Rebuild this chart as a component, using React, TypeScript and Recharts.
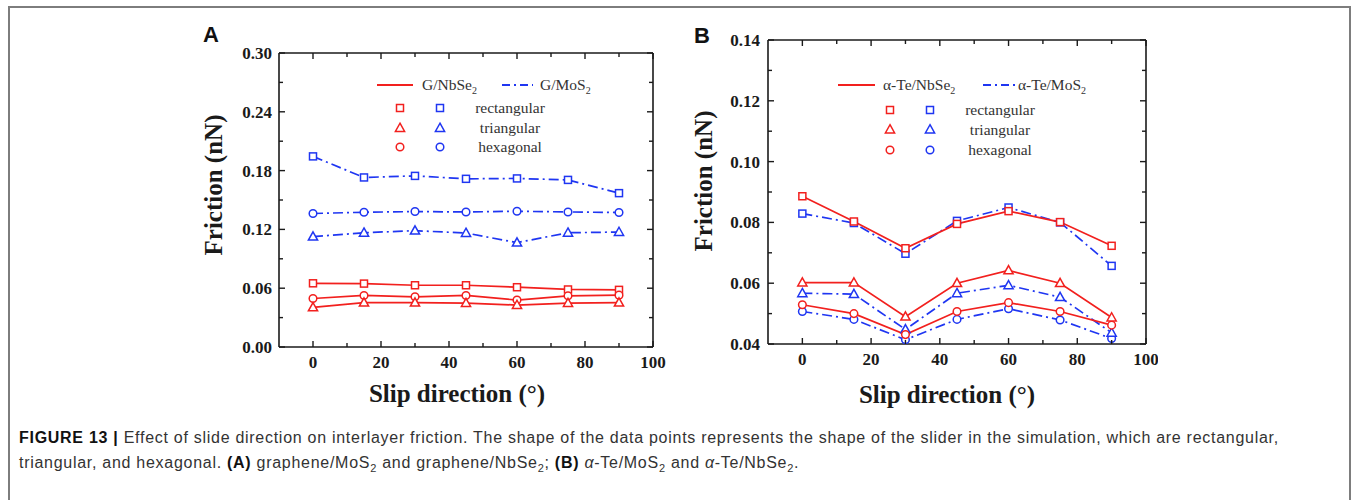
import React from 'react';
import { LineChart, Line, XAxis, YAxis, Legend, Label } from 'recharts';

// slip directions (degrees)
const angles = [0, 15, 30, 45, 60, 75, 90];

// panel A: graphene on NbSe2 / MoS2
const gNbSe2Rect = [0.065, 0.0647, 0.063, 0.063, 0.061, 0.0587, 0.0583];
const gNbSe2Tri = [0.0404, 0.0452, 0.0452, 0.0448, 0.0428, 0.0448, 0.0452];
const gNbSe2Hex = [0.0495, 0.0526, 0.0512, 0.0526, 0.0479, 0.0522, 0.0529];
const gMoS2Rect = [0.1945, 0.173, 0.1746, 0.1716, 0.172, 0.1705, 0.157];
const gMoS2Tri = [0.1126, 0.1166, 0.1187, 0.1163, 0.1065, 0.1166, 0.1173];
const gMoS2Hex = [0.1362, 0.1375, 0.1382, 0.1378, 0.1385, 0.1378, 0.1372];

// panel B: alpha-Te on NbSe2 / MoS2
const teNbSe2Rect = [0.0886, 0.0803, 0.0715, 0.0795, 0.0837, 0.0801, 0.0723];
const teNbSe2Tri = [0.0602, 0.0602, 0.049, 0.06, 0.0642, 0.06, 0.0487];
const teNbSe2Hex = [0.0529, 0.05, 0.0431, 0.0507, 0.0536, 0.0507, 0.0462];
const teMoS2Rect = [0.0829, 0.0798, 0.0697, 0.0805, 0.0849, 0.08, 0.0657];
const teMoS2Tri = [0.0567, 0.0564, 0.0448, 0.0567, 0.0593, 0.0554, 0.0437];
const teMoS2Hex = [0.0507, 0.0481, 0.0414, 0.0481, 0.0516, 0.0479, 0.0418];

// ticks
const xTicks = [0, 10, 20, 30, 40, 50, 60, 70, 80, 90, 100];
const xMajor = [0, 20, 40, 60, 80, 100];
const yTicksA = [0, 0.03, 0.06, 0.09, 0.12, 0.15, 0.18, 0.21, 0.24, 0.27, 0.3];
const yMajorA = [0, 0.06, 0.12, 0.18, 0.24, 0.3];
const yTicksB = [0.04, 0.05, 0.06, 0.07, 0.08, 0.09, 0.1, 0.11, 0.12, 0.13, 0.14];
const yMajorB = [0.04, 0.06, 0.08, 0.1, 0.12, 0.14];

const shapeNames = ['rectangular', 'triangular', 'hexagonal'];

const RED = '#f2201e';
const BLUE = '#1f36f2';
const DASH = '10 4 2 4';
const SERIF = '"Liberation Serif", "Times New Roman", serif';
const SANS = '"Liberation Sans", Arial, sans-serif';
const INK = '#1a1a1a';

type Shape = 'square' | 'triangle' | 'circle';

const buildRows = (cols: Record<string, number[]>) =>
  angles.map((angle, i) => {
    const row: Record<string, number> = { angle };
    Object.keys(cols).forEach((k) => (row[k] = cols[k][i]));
    return row;
  });

const dataA = buildRows({ nbRect: gNbSe2Rect, nbTri: gNbSe2Tri, nbHex: gNbSe2Hex, moRect: gMoS2Rect, moTri: gMoS2Tri, moHex: gMoS2Hex });
const dataB = buildRows({ nbRect: teNbSe2Rect, nbTri: teNbSe2Tri, nbHex: teNbSe2Hex, moRect: teMoS2Rect, moTri: teMoS2Tri, moHex: teMoS2Hex });

const series: { key: string; color: string; dashed: boolean; shape: Shape }[] = [
  { key: 'moRect', color: BLUE, dashed: true, shape: 'square' },
  { key: 'moHex', color: BLUE, dashed: true, shape: 'circle' },
  { key: 'moTri', color: BLUE, dashed: true, shape: 'triangle' },
  { key: 'nbRect', color: RED, dashed: false, shape: 'square' },
  { key: 'nbHex', color: RED, dashed: false, shape: 'circle' },
  { key: 'nbTri', color: RED, dashed: false, shape: 'triangle' },
];

function Marker({ cx, cy, shape, color }: { cx: number; cy: number; shape: Shape; color: string }) {
  if (cx == null || cy == null) return null;
  const common = { fill: '#fff', stroke: color, strokeWidth: 1.5 };
  if (shape === 'square') return <rect x={cx - 3.5} y={cy - 3.5} width={7} height={7} {...common} />;
  if (shape === 'triangle')
    return <polygon points={`${cx},${cy - 4.8} ${cx + 4.6},${cy + 3.4} ${cx - 4.6},${cy + 3.4}`} {...common} />;
  return <circle cx={cx} cy={cy} r={3.8} {...common} />;
}

const isIn = (list: number[], v: number) => list.some((m) => Math.abs(m - v) < 1e-6);

const tickText = { fontFamily: SERIF, fontWeight: 700, fontSize: 17, fill: INK };

const bottomTick = (props: any) => {
  const { x, y, payload } = props;
  const major = isIn(xMajor, payload.value);
  return (
    <g>
      <line x1={x} y1={y} x2={x} y2={y - (major ? 6 : 4)} stroke={INK} strokeWidth={1.4} />
      {major && (
        <text x={x} y={y + 21} textAnchor="middle" {...tickText}>
          {payload.value}
        </text>
      )}
    </g>
  );
};

const topTick = (props: any) => {
  const { x, y, payload } = props;
  const major = isIn(xMajor, payload.value);
  return <line x1={x} y1={y} x2={x} y2={y + (major ? 6 : 4)} stroke={INK} strokeWidth={1.4} />;
};

const leftTick = (major: number[], gap: number) => (props: any) => {
  const { x, y, payload } = props;
  const isMajor = isIn(major, payload.value);
  return (
    <g>
      <line x1={x} y1={y} x2={x + (isMajor ? 6 : 4)} y2={y} stroke={INK} strokeWidth={1.4} />
      {isMajor && (
        <text x={x - gap} y={y + 6} textAnchor="end" {...tickText}>
          {Number(payload.value).toFixed(2)}
        </text>
      )}
    </g>
  );
};

const rightTick = (major: number[]) => (props: any) => {
  const { x, y, payload } = props;
  const isMajor = isIn(major, payload.value);
  return <line x1={x} y1={y} x2={x - (isMajor ? 6 : 4)} y2={y} stroke={INK} strokeWidth={1.4} />;
};

function Sub({ children }: { children: React.ReactNode }) {
  return (
    <tspan fontSize={10} dy={4}>
      {children}
    </tspan>
  );
}

interface LegendCfg {
  left: number;
  top: number;
  nbLabel: string;
  moLabel: string;
  row1: { redLine: [number, number]; nbText: number; blueLine: [number, number]; moText: number };
  rows: number[];
  redX: number;
  blueX: number;
  textX: number;
}

function ShapeLegend({ cfg }: { cfg: LegendCfg }) {
  const { row1, rows } = cfg;
  const shapes: Shape[] = ['square', 'triangle', 'circle'];
  const txt = { fontFamily: SERIF, fontSize: 15.5, fill: '#333' };
  return (
    <svg width={300} height={110} style={{ overflow: 'visible', display: 'block' }}>
      <line x1={row1.redLine[0]} x2={row1.redLine[1]} y1={rows[0]} y2={rows[0]} stroke={RED} strokeWidth={2} />
      <text x={row1.nbText} y={rows[0] + 5} {...txt}>
        {cfg.nbLabel}
        <Sub>2</Sub>
      </text>
      <line x1={row1.blueLine[0]} x2={row1.blueLine[1]} y1={rows[0]} y2={rows[0]} stroke={BLUE} strokeWidth={2} strokeDasharray="8 4 2 4" />
      <text x={row1.moText} y={rows[0] + 5} {...txt}>
        {cfg.moLabel}
        <Sub>2</Sub>
      </text>
      {shapes.map((s, i) => (
        <g key={s}>
          <Marker cx={cfg.redX} cy={rows[i + 1]} shape={s} color={RED} />
          <Marker cx={cfg.blueX} cy={rows[i + 1]} shape={s} color={BLUE} />
          <text x={cfg.textX} y={rows[i + 1] + 5} textAnchor="middle" {...txt}>
            {shapeNames[i]}
          </text>
        </g>
      ))}
    </svg>
  );
}

interface PanelProps {
  data: Record<string, number>[];
  left: number;
  top: number;
  width: number;
  height: number;
  margin: { top: number; right: number; bottom: number; left: number };
  yAxisWidth: number;
  xAxisHeight: number;
  yDomain: [number, number];
  yTicks: number[];
  yMajor: number[];
  yGap: number;
  xLabelDx: number;
  xLabelBaseline: number;
  yLabelDy: number;
  legend: LegendCfg;
}

function Panel(p: PanelProps) {
  const xLabel = (props: any) => {
    const vb = props.viewBox || {};
    return (
      <text
        x={vb.x + vb.width / 2 + p.xLabelDx}
        y={vb.y + p.xLabelBaseline}
        textAnchor="middle"
        fontFamily={SERIF}
        fontWeight={700}
        fontSize={25}
        fill={INK}
      >
        Slip direction (°)
      </text>
    );
  };
  const yLabel = (props: any) => {
    const vb = props.viewBox || {};
    const cx = vb.x + vb.width / 2;
    const cy = vb.y + vb.height / 2 + p.yLabelDy;
    return (
      <text
        x={cx}
        y={cy}
        transform={`rotate(-90, ${cx}, ${cy})`}
        textAnchor="middle"
        dominantBaseline="central"
        fontFamily={SERIF}
        fontWeight={700}
        fontSize={25}
        fill={INK}
      >
        Friction (nN)
      </text>
    );
  };
  const axisLine = { stroke: INK, strokeWidth: 1.6 };
  return (
    <div style={{ position: 'absolute', left: p.left, top: p.top }}>
      <LineChart width={p.width} height={p.height} data={p.data} margin={p.margin}>
        <XAxis
          xAxisId="b"
          dataKey="angle"
          type="number"
          domain={[-10, 100]}
          allowDataOverflow
          ticks={xTicks}
          interval={0}
          height={p.xAxisHeight}
          tickSize={0}
          tickMargin={0}
          tick={bottomTick}
          axisLine={axisLine}
          tickLine={false}
          label={<Label content={xLabel} />}
        />
        <XAxis
          xAxisId="t"
          orientation="top"
          dataKey="angle"
          type="number"
          domain={[-10, 100]}
          allowDataOverflow
          ticks={xTicks}
          interval={0}
          height={1}
          tickSize={0}
          tickMargin={0}
          tick={topTick}
          axisLine={axisLine}
          tickLine={false}
        />
        <YAxis
          yAxisId="l"
          type="number"
          domain={p.yDomain}
          allowDataOverflow
          ticks={p.yTicks}
          interval={0}
          width={p.yAxisWidth}
          tickSize={0}
          tickMargin={0}
          tick={leftTick(p.yMajor, p.yGap)}
          axisLine={axisLine}
          tickLine={false}
          label={<Label content={yLabel} />}
        />
        <YAxis
          yAxisId="r"
          orientation="right"
          type="number"
          domain={p.yDomain}
          allowDataOverflow
          ticks={p.yTicks}
          interval={0}
          width={1}
          tickSize={0}
          tickMargin={0}
          tick={rightTick(p.yMajor)}
          axisLine={axisLine}
          tickLine={false}
        />
        <Legend
          layout="horizontal"
          verticalAlign="middle"
          align="center"
          wrapperStyle={{ left: p.legend.left, top: p.legend.top, width: 300, height: 110 }}
          content={() => <ShapeLegend cfg={p.legend} />}
        />
        {/* invisible series bound to the mirrored top/right frame axes */}
        <Line
          xAxisId="t"
          yAxisId="r"
          dataKey="nbRect"
          stroke="none"
          dot={false}
          activeDot={false}
          legendType="none"
          isAnimationActive={false}
        />
        {series.map((s) => (
          <Line
            key={s.key}
            xAxisId="b"
            yAxisId="l"
            dataKey={s.key}
            stroke={s.color}
            strokeWidth={1.7}
            strokeDasharray={s.dashed ? DASH : undefined}
            isAnimationActive={false}
            activeDot={false}
            legendType="none"
            dot={(d: any) => <Marker key={`${s.key}-${d.index}`} cx={d.cx} cy={d.cy} shape={s.shape} color={s.color} />}
          />
        ))}
      </LineChart>
    </div>
  );
}

// legend layouts (local to each legend box)
const legendA: LegendCfg = {
  left: 220,
  top: 50,
  nbLabel: 'G/NbSe',
  moLabel: 'G/MoS',
  row1: { redLine: [10, 46], nbText: 55, blueLine: [135, 166], moText: 173 },
  rows: [15, 38, 58, 77],
  redX: 33,
  blueX: 73,
  textX: 143,
};

const legendB: LegendCfg = {
  left: 190,
  top: 50,
  nbLabel: 'α-Te/NbSe',
  moLabel: 'α-Te/MoS',
  row1: { redLine: [10, 47], nbText: 55, blueLine: [155, 187], moText: 190 },
  rows: [15, 40, 59.5, 80],
  redX: 62,
  blueX: 102,
  textX: 172,
};

const bold = { color: '#111', fontWeight: 700 };
const sub = { fontSize: 11 };

export default function App() {
  return (
    <div
      style={{
        position: 'absolute',
        left: 0,
        top: 0,
        width: 1354,
        height: 500,
        overflow: 'hidden',
        background: '#fff',
      }}
    >
      <div
        style={{
          position: 'absolute',
          left: 8,
          top: 6,
          width: 1343,
          height: 520,
          border: '2px solid #7d7d7d',
          boxSizing: 'border-box',
        }}
      />
      <Panel
        data={dataA}
        left={147}
        top={20}
        width={520}
        height={400}
        margin={{ top: 32, right: 13, bottom: 0, left: 0 }}
        yAxisWidth={132}
        xAxisHeight={73}
        yDomain={[0, 0.3]}
        yTicks={yTicksA}
        yMajor={yMajorA}
        yGap={7}
        xLabelDx={-9}
        xLabelBaseline={55}
        yLabelDy={-15}
        legend={legendA}
      />
      <Panel
        data={dataB}
        left={638}
        top={20}
        width={520}
        height={400}
        margin={{ top: 19, right: 11, bottom: 0, left: 0 }}
        yAxisWidth={130}
        xAxisHeight={76}
        yDomain={[0.04, 0.14]}
        yTicks={yTicksB}
        yMajor={yMajorB}
        yGap={8}
        xLabelDx={-10}
        xLabelBaseline={59}
        yLabelDy={-11}
        legend={legendB}
      />
      <svg width={1354} height={60} style={{ position: 'absolute', left: 0, top: 0, pointerEvents: 'none' }}>
        <text x={203} y={42} fontFamily={SANS} fontWeight={700} fontSize={22} fill="#111">
          A
        </text>
        <text x={694} y={43} fontFamily={SANS} fontWeight={700} fontSize={22} fill="#111">
          B
        </text>
      </svg>
      <div
        style={{
          position: 'absolute',
          left: 19,
          top: 425,
          width: 1325,
          fontFamily: SANS,
          fontSize: 16,
          letterSpacing: '0.72px',
          lineHeight: '25px',
          color: '#333',
          whiteSpace: 'nowrap',
        }}
      >
        <span style={bold}>FIGURE 13 | </span>Effect of slide direction on interlayer friction. The shape of the data
        points represents the shape of the slider in the simulation, which are rectangular,
        <br />
        triangular, and hexagonal. <span style={bold}>(A)</span> graphene/MoS<sub style={sub}>2</sub> and graphene/NbSe
        <sub style={sub}>2</sub>; <span style={bold}>(B)</span> <i>α</i>-Te/MoS<sub style={sub}>2</sub> and <i>α</i>
        -Te/NbSe<sub style={sub}>2</sub>.
      </div>
    </div>
  );
}
